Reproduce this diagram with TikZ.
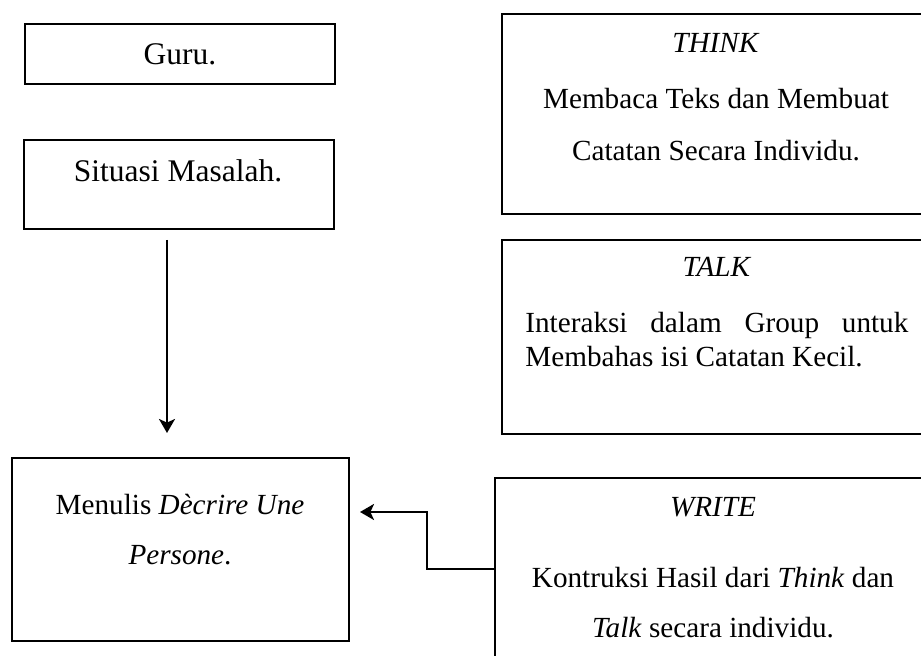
\documentclass[tikz,border=0pt]{standalone}
\usepackage{fontspec}
\setmainfont{Liberation Serif}
\usetikzlibrary{arrows.meta,fit}
\begin{document}
\begin{tikzpicture}[x=0.5pt,y=-0.5pt,
  box/.style={draw,line width=0.9pt,inner sep=0pt,outer sep=0pt,rectangle},
  bigtxt/.style={anchor=base,inner sep=0pt,font=\fontsize{15.75}{18}\selectfont},
  txt/.style={anchor=base,inner sep=0pt,font=\fontsize{14.6}{17}\selectfont},
  arr/.style={line width=1.2pt,-{Stealth[length=7pt,width=8pt,inset=1.8pt]}}]
\useasboundingbox (0,0) rectangle (921,656);
\clip (0,0) rectangle (921,656);
% boxes
\node[box,fit={(25,24)(335,84)}] (guru) {};
\node[box,fit={(24,140)(334,229)}] (situasi) {};
\node[box,fit={(12,458)(349,641)}] (menulis) {};
\node[box,fit={(502,14)(940,214)}] (think) {};
\node[box,fit={(502,240)(940,434)}] (talk) {};
\node[box,fit={(495,478)(940,660)}] (write) {};
% texts
\node[bigtxt] (tguru) at (180,65) {Guru.};
\node[bigtxt] (tsit) at (178,182) {Situasi Masalah.};
\node[txt] (tmen1) at (180,515) {Menulis \textit{Dècrire Une}};
\node[txt] (tmen2) at (180,565) {\textit{Persone}.};
\node[txt] (tthink) at (716,53) {\textit{THINK}};
\node[txt] (tthink1) at (716,109) {Membaca Teks dan Membuat};
\node[txt] (tthink2) at (716,161) {Catatan Secara Individu.};
\node[txt] (ttalk) at (717,277) {\textit{TALK}};
\node[txt,anchor=base west] (ttalk1) at (525,333) {\makebox[191.5pt][s]{Interaksi dalam Group untuk}};
\node[txt,anchor=base west] (ttalk2) at (525,367) {Membahas isi Catatan Kecil.};
\node[txt] (twrite) at (713,517) {\textit{WRITE}};
\node[txt] (twrite1) at (713,588) {Kontruksi Hasil dari \textit{Think} dan};
\node[txt] (twrite2) at (713,638) {\textit{Talk} secara individu.};
% connectors
\draw[arr] ([xshift=-6pt,yshift=-5.5pt]situasi.south) -- ([xshift=-6.75pt,yshift=12.5pt]menulis.north);
\draw[arr] (write.west) -- ++(-68,0) |- ([xshift=5.5pt,yshift=18.75pt]menulis.east);
\end{tikzpicture}
\end{document}
